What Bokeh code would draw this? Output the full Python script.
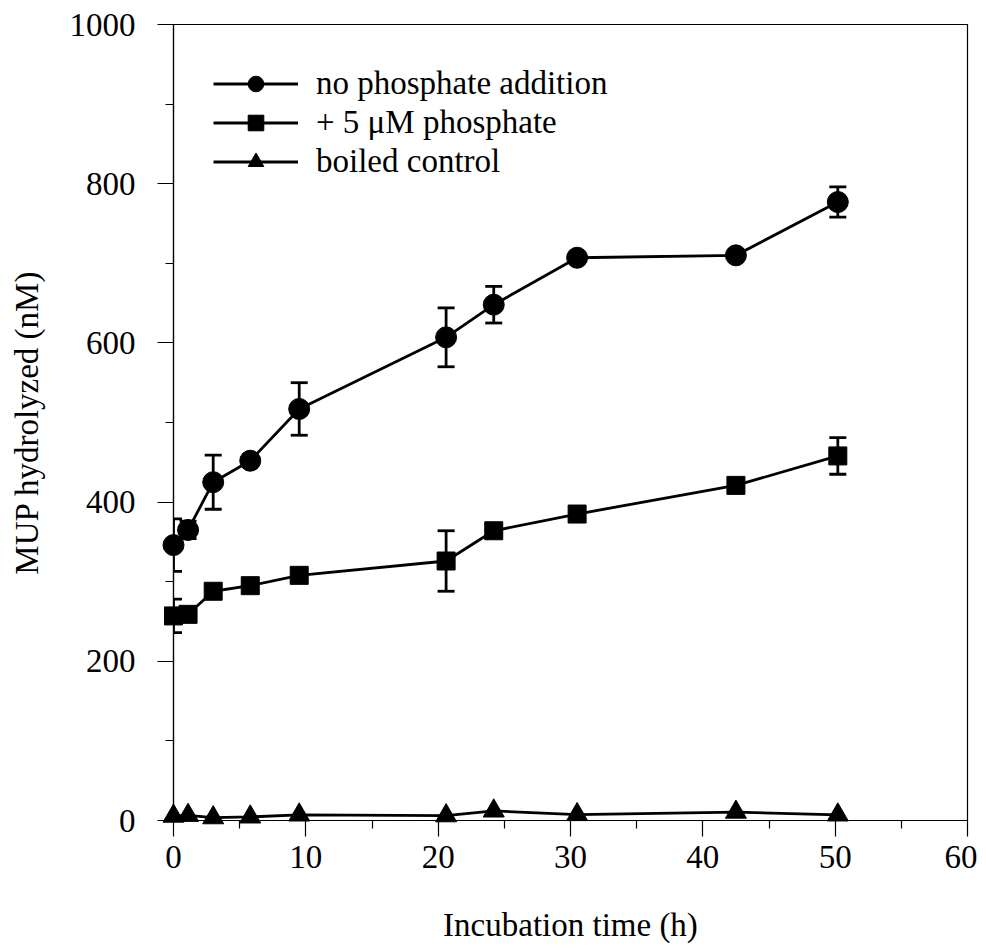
from bokeh.plotting import figure
from bokeh.models import Range1d, Whisker, TeeHead, ColumnDataSource, FixedTicker
from bokeh.embed import file_html
from bokeh.resources import INLINE

# ---- data ----
time_h = [0, 1.1, 3.0, 5.8, 9.5, 20.6, 24.2, 30.5, 42.5, 50.2]

no_phosphate = [346, 365, 425, 452, 517, 607, 648, 707, 710, 777]
no_phosphate_err = [33, 11, 34, 0, 33, 37, 23, 0, 0, 19]

plus_phosphate = [257, 259, 288, 295, 308, 326, 364, 385, 421, 458]
plus_phosphate_err = [21, 0, 0, 0, 8, 38, 0, 0, 0, 23]

boiled = [5.5, 6.5, 3.5, 4.5, 7, 6, 12, 7.5, 10.5, 7]

labels = ["no phosphate addition", "+ 5 \u03bcM phosphate", "boiled control"]
x_ticks = [0, 10, 20, 30, 40, 50, 60]
y_ticks = [0, 200, 400, 600, 800, 1000]
x_label = "Incubation time (h)"
y_label = "MUP hydrolyzed (nM)"

FONT = "Liberation Serif"
FS = "33px"

p = figure(frame_width=794, frame_height=796,
           x_range=Range1d(0, 60), y_range=Range1d(0, 1000),
           min_border_left=173, min_border_top=24, min_border_right=10,
           min_border_bottom=124,
           output_backend="svg", toolbar_location=None)
p.grid.visible = False
p.outline_line_color = "black"
p.outline_line_width = 1.2

for ax in (p.xaxis[0], p.yaxis[0]):
    ax.axis_line_color = "black"
    ax.axis_line_width = 1.2
    ax.major_tick_line_color = "black"
    ax.minor_tick_line_color = "black"
    ax.major_tick_line_width = 1.2
    ax.minor_tick_line_width = 1.2
    ax.major_tick_in = 0
    ax.major_tick_out = 16
    ax.minor_tick_in = 0
    ax.minor_tick_out = 8
    ax.major_label_text_font = FONT
    ax.major_label_text_font_size = FS
    ax.major_label_text_color = "black"
    ax.axis_label_text_font = FONT
    ax.axis_label_text_font_size = FS
    ax.axis_label_text_font_style = "normal"
    ax.axis_label_text_color = "black"

p.xaxis[0].ticker = FixedTicker(ticks=x_ticks, minor_ticks=[v + 5 for v in x_ticks[:-1]])
p.yaxis[0].ticker = FixedTicker(ticks=y_ticks, minor_ticks=[v + 100 for v in y_ticks[:-1]])
p.xaxis[0].axis_label = x_label
p.yaxis[0].axis_label = y_label
p.xaxis[0].major_label_standoff = 9
p.yaxis[0].major_label_standoff = 22
p.xaxis[0].axis_label_standoff = 36
p.yaxis[0].axis_label_standoff = 22

LW = 2.8

def series(y, err, marker, size, label):
    src = ColumnDataSource(dict(x=time_h, y=y))
    if err is not None:
        ex = [t for t, e in zip(time_h, err) if e > 0]
        ey = [v for v, e in zip(y, err) if e > 0]
        ee = [e for e in err if e > 0]
        esrc = ColumnDataSource(dict(x=ex, lo=[a - b for a, b in zip(ey, ee)],
                                     hi=[a + b for a, b in zip(ey, ee)]))
        w = Whisker(source=esrc, base="x", lower="lo", upper="hi",
                    line_color="black", line_width=LW, level="overlay",
                    upper_head=TeeHead(size=17, line_width=LW, line_color="black"),
                    lower_head=TeeHead(size=17, line_width=LW, line_color="black"))
        p.add_layout(w)
    p.line("x", "y", source=src, line_color="black", line_width=LW,
           legend_label=label, level="overlay")
    p.scatter("x", "y", source=src, marker=marker, size=size,
              fill_color="black", line_color="black", legend_label=label,
              level="overlay")

series(no_phosphate, no_phosphate_err, "circle", 21, labels[0])
series(plus_phosphate, plus_phosphate_err, "square", 18, labels[1])
series(boiled, None, "triangle", 21, labels[2])

lg = p.legend[0]
lg.location = "top_left"
lg.margin = 40
lg.padding = 0
lg.spacing = 0
lg.glyph_width = 85
lg.glyph_height = 39
lg.label_height = 39
lg.label_standoff = 18
lg.label_text_font = FONT
lg.label_text_font_size = FS
lg.label_text_color = "black"
lg.border_line_color = None
lg.background_fill_alpha = 0

open("out.html", "w").write(file_html(p, INLINE))
